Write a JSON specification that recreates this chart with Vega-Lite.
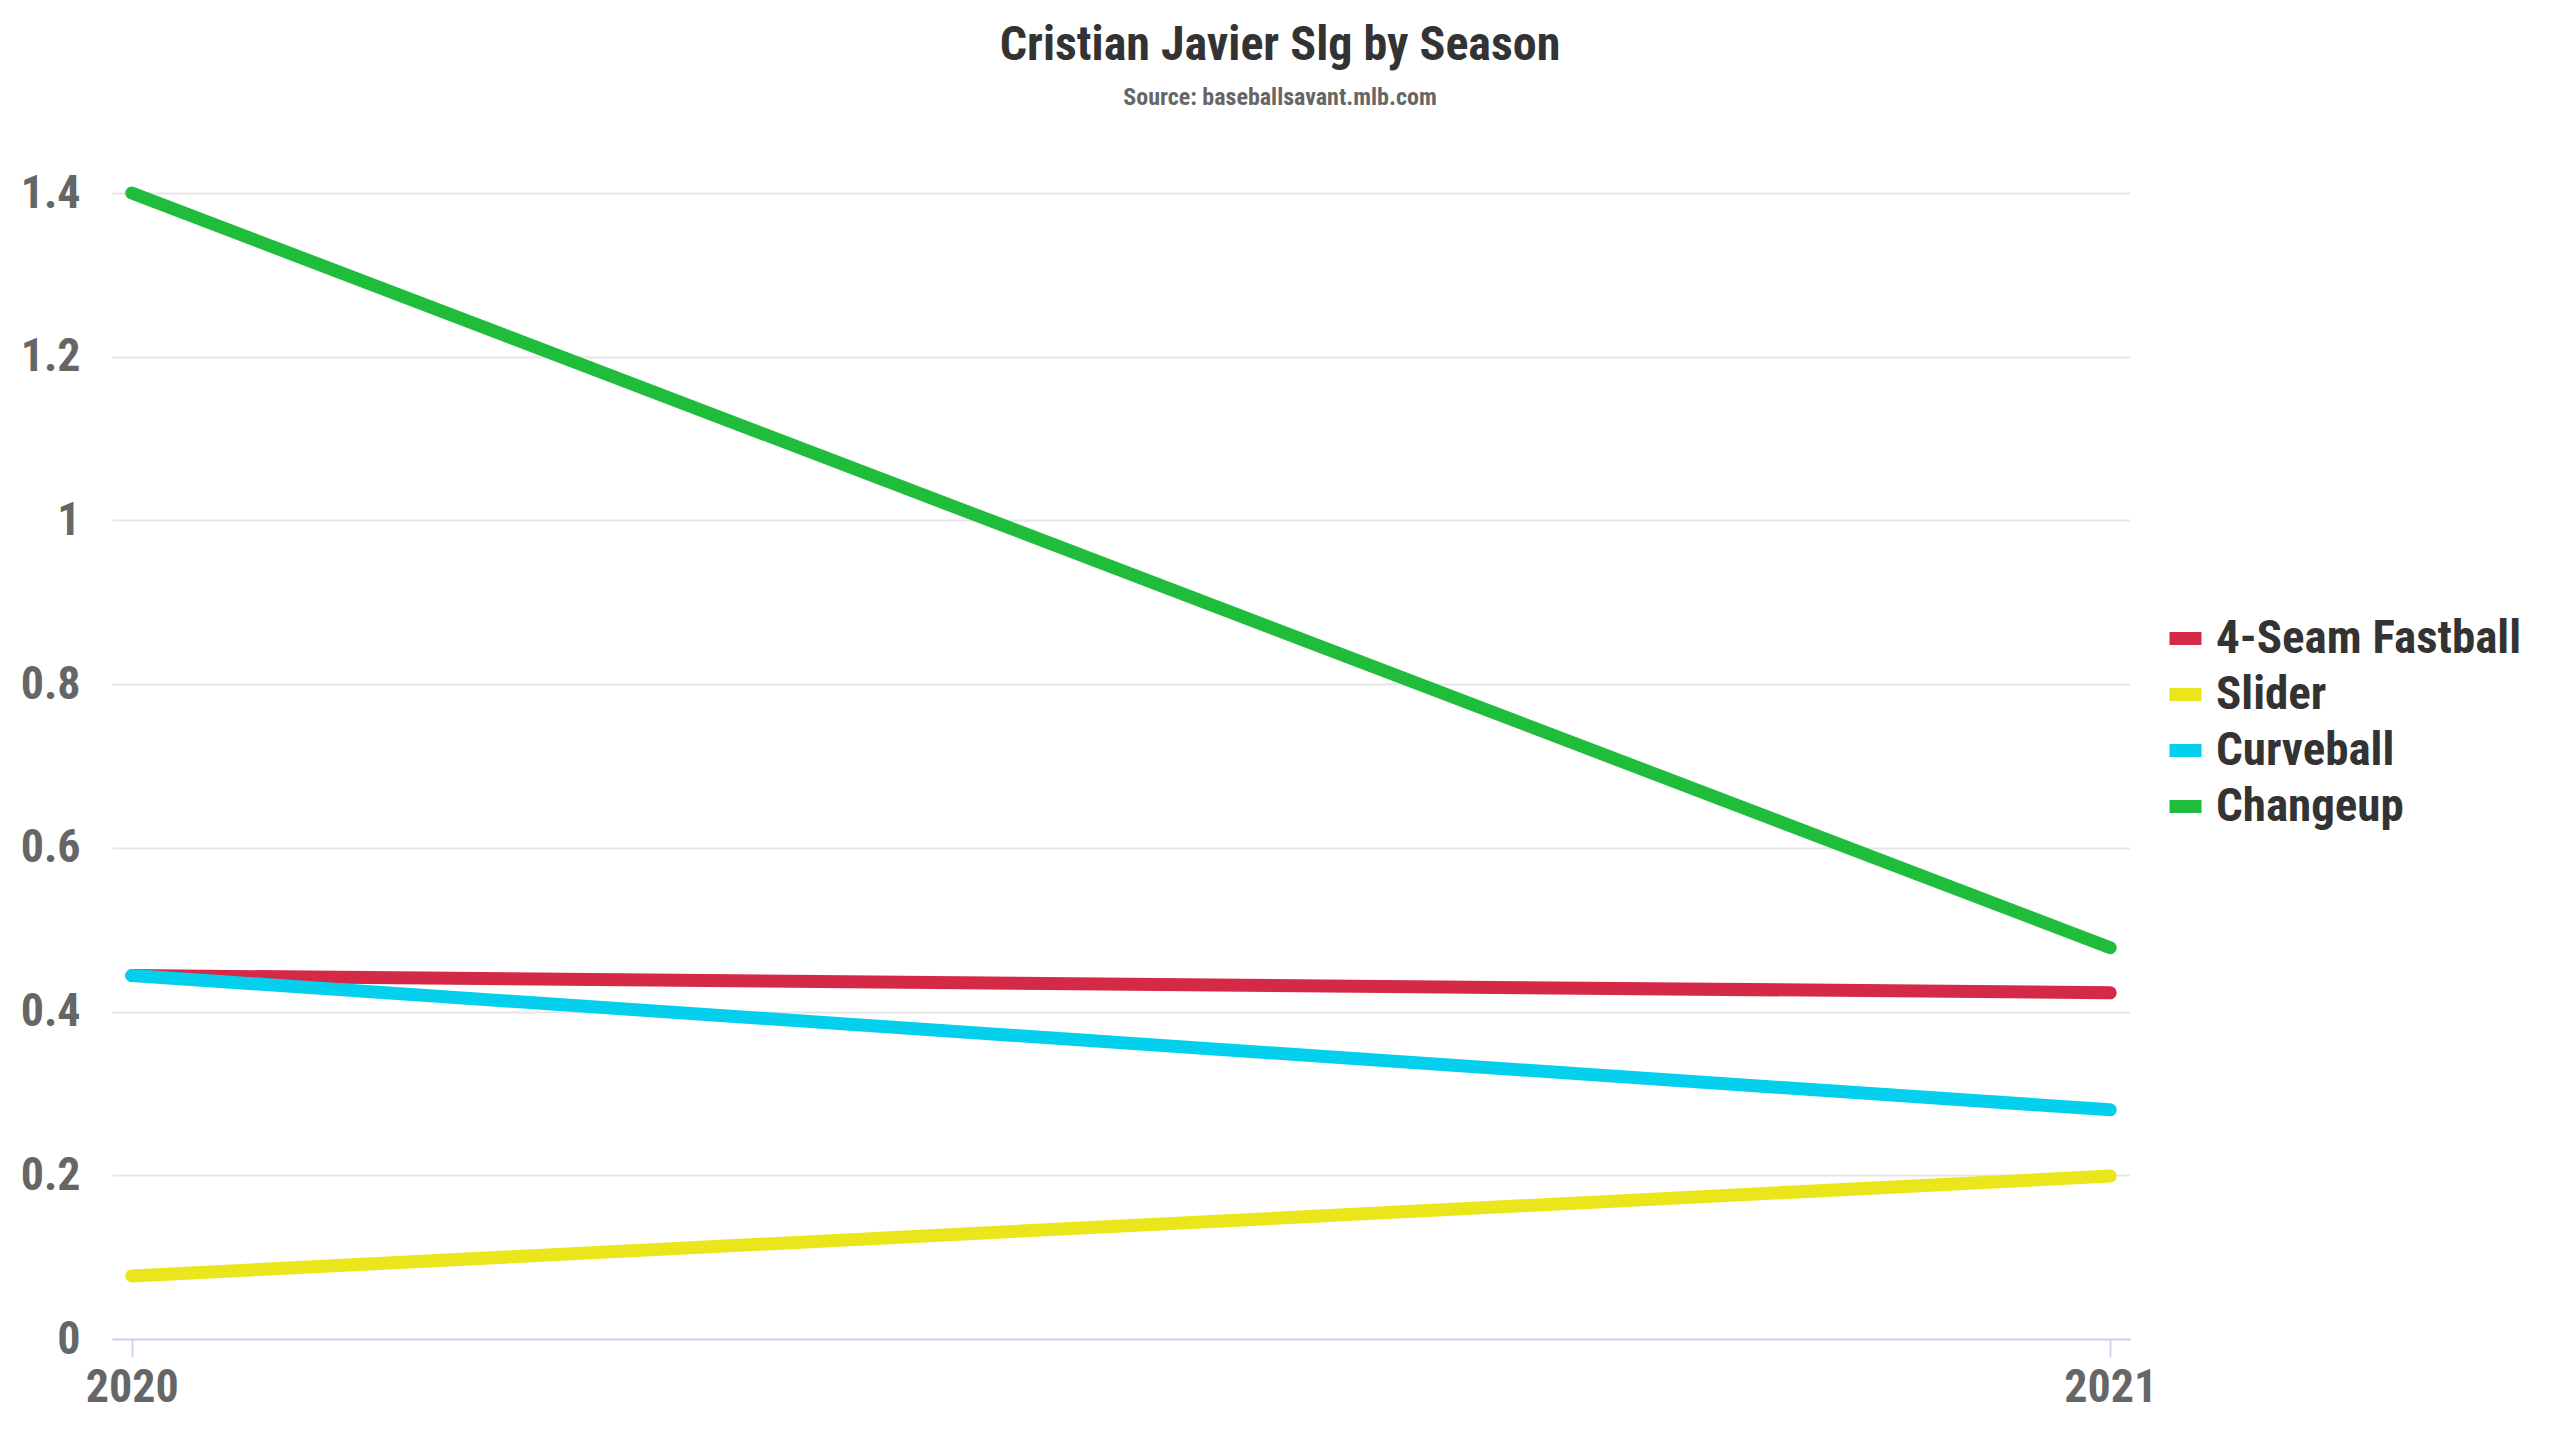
{
  "$schema": "https://vega.github.io/schema/vega-lite/v6.json",
  "width": 2018,
  "height": 1146,
  "autosize": {"type": "none"},
  "padding": {"left": 112, "top": 193, "right": 430, "bottom": 101},
  "background": "white",
  "config": {"view": {"stroke": null}},
  "title": {
    "text": "Cristian Javier Slg by Season",
    "subtitle": "Source: baseballsavant.mlb.com",
    "anchor": "middle",
    "dx": 159,
    "font": "Roboto Condensed, Liberation Sans Narrow, DejaVu Sans Condensed, Roboto, sans-serif",
    "fontSize": 48,
    "fontWeight": "bold",
    "color": "#333333",
    "subtitleFont": "Roboto Condensed, Liberation Sans Narrow, DejaVu Sans Condensed, Roboto, sans-serif",
    "subtitleFontSize": 24,
    "subtitleFontWeight": "bold",
    "subtitleColor": "#666666",
    "offset": 60,
    "subtitlePadding": 16
  },
  "data": {
    "values": [
      {"pitch": "4-Seam Fastball", "season": 2020, "slg": 0.444},
      {"pitch": "4-Seam Fastball", "season": 2021, "slg": 0.423},
      {"pitch": "Slider", "season": 2020, "slg": 0.077},
      {"pitch": "Slider", "season": 2021, "slg": 0.199},
      {"pitch": "Curveball", "season": 2020, "slg": 0.444},
      {"pitch": "Curveball", "season": 2021, "slg": 0.280},
      {"pitch": "Changeup", "season": 2020, "slg": 1.400},
      {"pitch": "Changeup", "season": 2021, "slg": 0.478}
    ]
  },
  "mark": {"type": "line", "strokeWidth": 13, "strokeCap": "round", "strokeJoin": "round"},
  "encoding": {
    "x": {
      "field": "season",
      "type": "ordinal",
      "scale": {"type": "point", "padding": 0.01},
      "axis": {
        "title": null,
        "labelAngle": 0,
        "labelFont": "Roboto Condensed, Liberation Sans Narrow, DejaVu Sans Condensed, Roboto, sans-serif",
        "labelFontSize": 46,
        "labelFontWeight": "bold",
        "labelColor": "#666666",
        "domainColor": "#ccd6eb",
        "domainWidth": 2,
        "tickColor": "#ccd6eb",
        "tickWidth": 2,
        "tickSize": 18,
        "labelPadding": 8,
        "grid": false
      }
    },
    "y": {
      "field": "slg",
      "type": "quantitative",
      "scale": {"domain": [0, 1.4], "nice": false},
      "axis": {
        "title": null,
        "values": [0, 0.2, 0.4, 0.6, 0.8, 1, 1.2, 1.4],
        "format": "~g",
        "labelFont": "Roboto Condensed, Liberation Sans Narrow, DejaVu Sans Condensed, Roboto, sans-serif",
        "labelFontSize": 46,
        "labelFontWeight": "bold",
        "labelColor": "#666666",
        "domain": false,
        "ticks": false,
        "labelPadding": 32,
        "gridColor": "#e6e6e6",
        "gridWidth": 2
      }
    },
    "color": {
      "field": "pitch",
      "type": "nominal",
      "scale": {
        "domain": ["4-Seam Fastball", "Slider", "Curveball", "Changeup"],
        "range": ["#d42a47", "#ebe51b", "#04d0ee", "#1fbd3b"]
      },
      "legend": {
        "title": null,
        "orient": "none",
        "legendX": 2050,
        "legendY": 422,
        "padding": 0,
        "labelFont": "Roboto Condensed, Liberation Sans Narrow, DejaVu Sans Condensed, Roboto, sans-serif",
        "labelFontSize": 47,
        "labelFontWeight": "bold",
        "labelColor": "#333333",
        "labelLimit": 0,
        "labelOffset": 7,
        "symbolType": "stroke",
        "symbolSize": 1024,
        "symbolStrokeWidth": 13,
        "rowPadding": 3
      }
    }
  }
}
